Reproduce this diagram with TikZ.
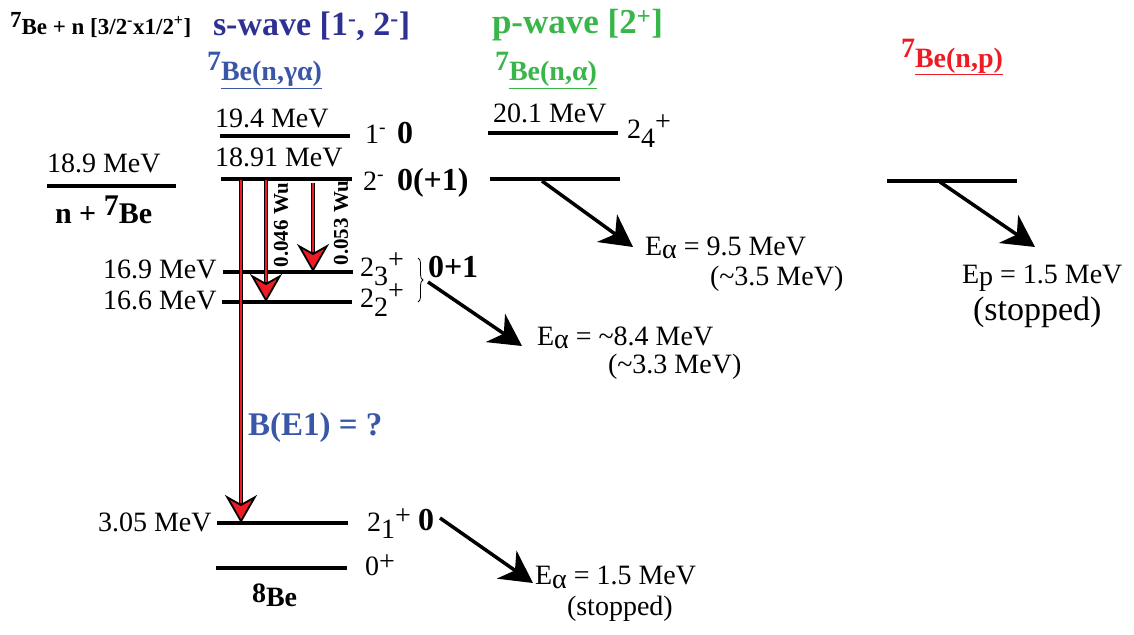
\documentclass[tikz,border=0pt]{standalone}
\usepackage{fontspec}
\setmainfont{Liberation Serif}
\usetikzlibrary{arrows.meta,decorations.pathreplacing}
\definecolor{sblue}{HTML}{2E3192}
\definecolor{lblue}{HTML}{3A56A6}
\definecolor{pgreen}{HTML}{39B54A}
\definecolor{pred}{HTML}{ED1C24}
\newcommand\fsz[1]{\fontsize{#1}{#1}\selectfont}
\newcommand\jlev[3]{#1\raisebox{-9pt}{#2}\raisebox{8pt}{#3}}
\begin{document}
\begin{tikzpicture}[x=1pt,y=-1pt,
  lvl/.style={line width=3.8pt},
  t/.style={anchor=base west,inner sep=0pt,outer sep=0pt,font=\fsz{28}},
  tb/.style={t,font=\fsz{32}\bfseries},
  blk/.style={line width=3.5pt,-{Stealth[length=32pt,width=34pt,inset=10pt]}},
  gam/.style={line width=3.2pt,-{Stealth[length=28pt,width=32pt,inset=9pt,line width=1.8pt,fill=pred]},
    postaction={draw=pred,line width=1.4pt,arrows=-,shorten >=20pt}},
  rot/.style={font=\fsz{21}\bfseries,rotate=90,inner sep=0pt}]
\useasboundingbox (0,0) rectangle (1134,634);

% level end points
\coordinate (nA) at (47,186);  \coordinate (nB) at (176,186);
\coordinate (a1) at (220,136); \coordinate (a2) at (350,136);
\coordinate (b1) at (221,179); \coordinate (b2) at (352,179);
\coordinate (c1) at (223,272); \coordinate (c2) at (353,272);
\coordinate (d1) at (222,302); \coordinate (d2) at (352,302);
\coordinate (e1) at (217,523); \coordinate (e2) at (348,523);
\coordinate (f1) at (216,568); \coordinate (f2) at (347,568);
\coordinate (p1) at (488,133); \coordinate (p2) at (618,133);
\coordinate (q1) at (490,179); \coordinate (q2) at (620,179);
\coordinate (r1) at (887,181); \coordinate (r2) at (1017,181);

\foreach \u/\v in {nA/nB,a1/a2,b1/b2,c1/c2,d1/d2,e1/e2,f1/f2,p1/p2,q1/q2,r1/r2}
  \draw[lvl] (\u) -- (\v);

% gamma transitions
\coordinate (g1s) at (241,180); \coordinate (g1e) at (241,523);
\coordinate (g2s) at (266,180); \coordinate (g2e) at (266,302);
\coordinate (g3s) at (313,183); \coordinate (g3e) at (313,272);
\draw[gam] (g1s) -- (g1e);
\draw[gam] (g2s) -- (g2e);
\draw[gam] (g3s) -- (g3e);

% particle decays
\coordinate (k1s) at (542,181); \coordinate (k1e) at (633,247);
\coordinate (k2s) at (428,282); \coordinate (k2e) at (522,346);
\coordinate (k3s) at (940,182); \coordinate (k3e) at (1035,247);
\coordinate (k4s) at (440,518); \coordinate (k4e) at (533,583);
\draw[blk] (k1s) -- (k1e);
\draw[blk] (k2s) -- (k2e);
\draw[blk] (k3s) -- (k3e);
\draw[blk] (k4s) -- (k4e);

% brace
\coordinate (br1) at (418,258); \coordinate (br2) at (418,302);
\draw[decorate,decoration={brace,amplitude=5pt},line width=0.8pt] (br1) -- (br2);

% headings
\node[t,font=\fsz{23}\bfseries] (ttl) at (10,35) {\raisebox{7pt}{7}Be + n [3/2\textsuperscript{-}x1/2\textsuperscript{+}]};
\node[t,font=\fsz{34}\bfseries,text=sblue] (sw) at (213,36) {s-wave [1\textsuperscript{-}, 2\textsuperscript{-}]};
\node[t,font=\fsz{28}\bfseries,text=lblue] (sg) at (207,81) {\raisebox{10pt}{7}\underline{Be(n,γα)}};
\node[t,font=\fsz{35}\bfseries,text=pgreen] (pw) at (492,34) {p-wave [2\textsuperscript{+}]};
\node[t,font=\fsz{28}\bfseries,text=pgreen] (pa) at (495,81) {\raisebox{10pt}{7}\underline{Be(n,α)}};
\node[t,font=\fsz{28}\bfseries,text=pred] (pp) at (901,67) {\raisebox{10pt}{7}\underline{Be(n,p)}};

% level labels
\node[t] (l194) at (215,127) {19.4 MeV};
\node[t] (l1891) at (215,166) {18.91 MeV};
\node[t] (l189) at (47,172) {18.9 MeV};
\node[t,font=\fsz{30}\bfseries] (nbe) at (55,223) {n + \raisebox{8pt}{7}Be};
\node[t] (s1) at (365,143) {1\textsuperscript{-}};
\node[tb] (s1i) at (397,143) {0};
\node[t] (s2) at (363,190) {2\textsuperscript{-}};
\node[tb] (s2i) at (397,190) {0(+1)};
\node[t] (l201) at (493,122) {20.1 MeV};
\node[t] (j24) at (627,138) {\jlev{2}{4}{+}};
\node[t] (l169) at (103,278) {16.9 MeV};
\node[t] (j23) at (360,276) {\jlev{2}{3}{+}};
\node[t] (l166) at (103,309) {16.6 MeV};
\node[t] (j22) at (360,307) {\jlev{2}{2}{+}};
\node[tb] (i01) at (428,277) {0+1};
\node[t] (l305) at (98,531) {3.05 MeV};
\node[t] (j21) at (367,531) {2\raisebox{-7pt}{1}\raisebox{7pt}{+}};
\node[tb] (j21i) at (418,530) {0};
\node[t] (j0) at (365,575) {0\raisebox{5pt}{+}};
\node[t,font=\fsz{28}\bfseries] (be8) at (252,606) {\raisebox{4pt}{8}Be};

% transition labels
\node[rot] (w1) at (281,225) {0.046 Wu};
\node[rot] (w2) at (341,223) {0.053 Wu};
\node[t,font=\fsz{33}\bfseries,text=lblue] (be1) at (248,435) {B(E1) = ?};

% decay energies
\node[t] (ea1) at (645,255) {E\raisebox{-3pt}{α} = 9.5 MeV};
\node[t] (ea1b) at (710,285) {(\textasciitilde3.5 MeV)};
\node[t] (ea2) at (537,345) {E\raisebox{-3pt}{α} = \textasciitilde8.4 MeV};
\node[t] (ea2b) at (608,373) {(\textasciitilde3.3 MeV)};
\node[t] (ep) at (962,283) {E\raisebox{-2pt}{p} = 1.5 MeV};
\node[t,font=\fsz{34}] (epb) at (973,320) {(stopped)};
\node[t] (ea3) at (535,584) {E\raisebox{-4pt}{α} = 1.5 MeV};
\node[t] (ea3b) at (567,615) {(stopped)};
\end{tikzpicture}
\end{document}
